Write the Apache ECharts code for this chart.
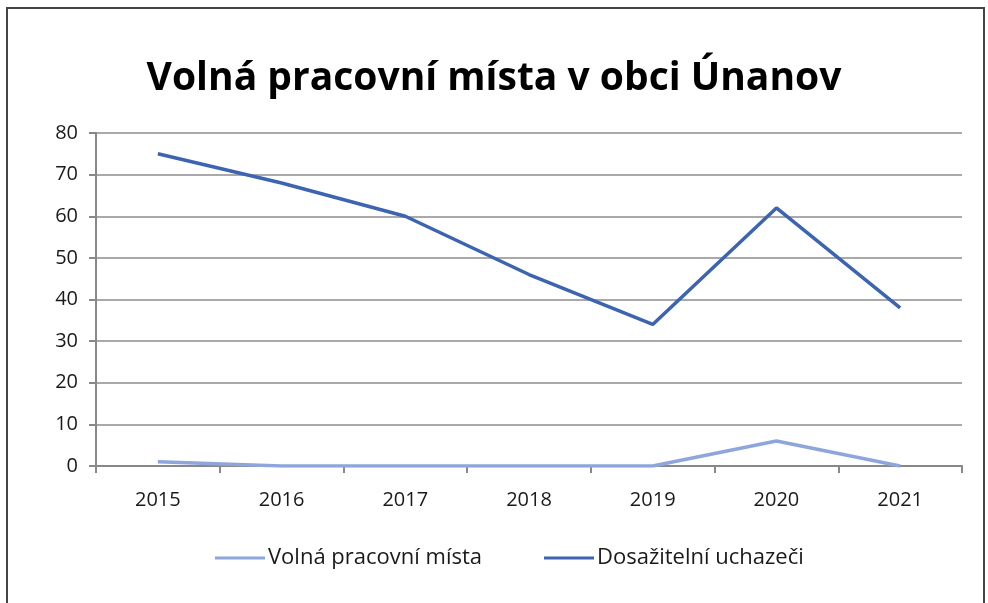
<!DOCTYPE html>
<html><head><meta charset="utf-8">
<script src="https://cdn.jsdelivr.net/npm/echarts@6/dist/echarts.min.js"></script>
<style>
html,body{margin:0;padding:0;background:#fff;}
#frame{position:absolute;left:6px;top:7px;width:979px;height:620px;border:2px solid #444;box-sizing:border-box;}
#c{position:absolute;left:0;top:0;width:988px;height:603px;}
</style></head>
<body>
<div id="frame"></div>
<div id="c"></div>
<script>
const title = 'Volná pracovní místa v obci Únanov';
const categories = ['2015','2016','2017','2018','2019','2020','2021'];
const seriesNames = ['Volná pracovní místa','Dosažitelní uchazeči'];
const volnaMista = [1, 0, 0, 0, 0, 6, 0];
const uchazeci = [75, 68, 60, 46, 34, 62, 38];
const yTicks = {min: 0, max: 80, interval: 10};

const font = '"Open Sans", "Noto Sans", sans-serif';
const chart = echarts.init(document.getElementById('c'));
chart.setOption({
  animation: false,
  backgroundColor: 'transparent',
  title: {
    text: title, left: 'center', top: 54,
    textStyle: {fontFamily: font, fontSize: 39, fontWeight: 'bold', color: '#000'}
  },
  legend: {
    bottom: 29, left: 210, itemGap: 62, itemWidth: 50, itemHeight: 3,
    icon: 'rect',
    textStyle: {fontFamily: font, fontSize: 22, color: '#1a1a1a', padding: [0, 0, 0, -2]},
    data: seriesNames
  },
  grid: {left: 96, right: 26, top: 133, bottom: 137},
  xAxis: {
    type: 'category', data: categories, boundaryGap: true,
    axisLine: {lineStyle: {color: '#888', width: 2}},
    axisTick: {show: true, length: 7, lineStyle: {color: '#888', width: 2}},
    axisLabel: {fontFamily: font, fontSize: 20, color: '#1a1a1a', margin: 24}
  },
  yAxis: {
    type: 'value', min: yTicks.min, max: yTicks.max, interval: yTicks.interval,
    axisLine: {show: true, lineStyle: {color: '#888', width: 2}},
    axisTick: {show: true, length: 7, lineStyle: {color: '#888', width: 2}},
    splitLine: {lineStyle: {color: '#8c8c8c', width: 1.5}},
    axisLabel: {fontFamily: font, fontSize: 20, color: '#1a1a1a', margin: 18}
  },
  series: [
    {name: seriesNames[0], type: 'line', data: volnaMista, showSymbol: false, symbol: 'none',
     lineStyle: {color: '#8ea6dc', width: 3.5}, itemStyle: {color: '#8ea6dc'}},
    {name: seriesNames[1], type: 'line', data: uchazeci, showSymbol: false, symbol: 'none',
     lineStyle: {color: '#3c64b0', width: 3.5}, itemStyle: {color: '#3c64b0'}}
  ]
});
</script>
</body></html>
